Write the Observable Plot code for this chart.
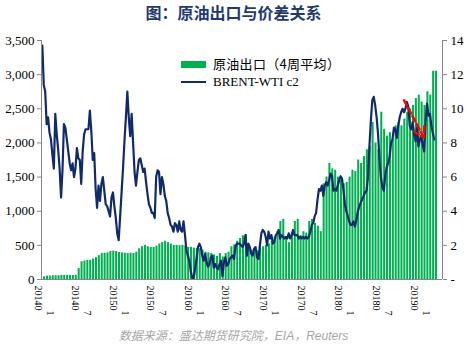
<!DOCTYPE html>
<html><head><meta charset="utf-8">
<script src="https://cdn.jsdelivr.net/npm/d3@7"></script>
<script src="https://cdn.jsdelivr.net/npm/@observablehq/plot@0.6"></script>
<style>
body{margin:0;background:#fff;width:467px;height:345px;overflow:hidden;position:relative;}
#title{height:26px;line-height:20px;text-align:center;font:bold 16px "Noto Sans CJK SC";color:#1F3A70;}
#caption{position:absolute;top:326px;left:0;width:467px;text-align:center;font:italic 12px "Liberation Sans","Noto Sans CJK SC";color:#A6A6A6;line-height:20px;}
.lg{position:absolute;left:181px;height:14px;display:flex;align-items:center;white-space:nowrap;}
.sw{display:inline-block;width:25px;margin-right:7px;}
.t1{font:13px/14px "Noto Sans CJK SC";color:#000;letter-spacing:0.3px;}
.t2{font:13px/14px "Liberation Serif";color:#000;}
</style></head>
<body>
<div id="title">图：原油出口与价差关系</div>
<div id="chart"></div>
<div class="lg" style="top:57px"><span class="sw" style="height:7px;background:#00B050"></span><span class="t1">原油出口（4周平均）</span></div>
<div class="lg" style="top:75px"><span class="sw" style="height:2.5px;background:#102A6B"></span><span class="t2">BRENT-WTI c2</span></div>
<div id="caption">数据来源：盛达期货研究院，EIA，Reuters</div>
<script>
// Crude exports (4-week average), biweekly from 2014-01-03
const barStart = "2014-01-03";
const exportsVals = [40, 50, 50, 55, 55, 55, 60, 60, 60, 60,
 60, 60, 160, 260, 270, 280, 280, 300, 320, 350,
 380, 385, 390, 410, 415, 410, 395, 390, 385, 380,
 385, 380, 400, 450, 480, 500, 480, 470, 470, 490,
 520, 540, 560, 540, 520, 500, 500, 495, 500, 490,
 470, 470, 460, 455, 450, 430, 400, 390, 380, 360,
 340, 380, 330, 380, 400, 480, 510, 560, 600, 640,
 660, 480, 430, 400, 420, 460, 480, 500, 520, 560,
 620, 700, 850, 880, 620, 540, 680, 850, 880, 640,
 700, 680, 850, 880, 820, 780, 700, 1400, 1500, 1700,
 1620, 1600, 1500, 1450, 1400, 1420, 1500, 1600, 1580, 1750,
 1700, 1800, 1900, 1950, 2300, 2000, 1900, 2450, 2200, 2100,
 2150, 2050, 2250, 2300, 2250, 2350, 2450, 2500, 2550, 2650,
 2700, 2600, 2550, 2750, 2700, 3050, 3050];
// BRENT-WTI c2 spread, weekly from 2013-12-23
const spreadStart = "2013-12-23";
const spreadVals = [13.7, 11.4, 11.0, 9.1, 9.5, 8.6, 8.2, 7.3, 6.5, 9.7,
 8.5, 7.6, 6.5, 4.8, 6.4, 9.1, 8.9, 8.2, 7.5, 6.8,
 6.4, 6.8, 6.0, 6.5, 7.7, 7.1, 7.0, 5.6, 7.5, 8.5,
 8.8, 8.8, 8.8, 9.9, 8.7, 7.0, 7.4, 5.3, 4.2, 5.5,
 4.6, 5.6, 6.0, 5.2, 4.4, 4.3, 4.0, 3.7, 4.8, 5.1,
 4.3, 3.6, 2.7, 2.3, 3.7, 5.1, 6.5, 8.1, 9.5, 11.0,
 9.5, 8.4, 9.7, 8.0, 6.3, 5.5, 6.3, 7.0, 7.1, 6.7,
 6.3, 6.5, 5.7, 5.0, 4.4, 4.2, 3.9, 3.9, 3.6, 6.0,
 6.4, 6.3, 5.0, 6.0, 5.6, 4.9, 4.6, 3.9, 3.6, 3.2,
 3.1, 2.8, 3.3, 3.2, 2.8, 3.4, 2.9, 2.8, 3.4, 2.6,
 1.7, 1.4, 1.1, 0.5, 0.1, 0.1, 0.6, 1.2, 1.9, 2.1,
 1.9, 1.4, 1.1, 1.5, 1.0, 0.75, 0.9, 1.3, 1.4, 0.7,
 0.9, 0.7, 0.6, 0.9, 1.1, 0.2, 1.0, 1.3, 0.8, 0.9,
 1.2, 1.3, 1.4, 1.2, 1.9, 2.1, 2.1, 2.1, 2.0, 1.9,
 2.1, 2.6, 1.4, 2.1, 1.9, 1.5, 1.4, 1.8, 1.9, 1.3,
 1.2, 2.0, 2.7, 2.9, 2.8, 2.5, 2.0, 2.8, 2.4, 2.6,
 2.1, 2.2, 2.6, 2.7, 2.9, 2.4, 2.6, 2.5, 2.4, 2.5,
 2.4, 2.7, 2.4, 2.6, 2.9, 2.6, 2.6, 2.6, 2.4, 2.5,
 2.4, 2.5, 2.4, 2.5, 2.4, 2.5, 2.8, 3.2, 3.3, 3.7,
 3.9, 4.7, 5.3, 5.2, 5.5, 4.9, 5.5, 5.7, 5.5, 5.8,
 6.2, 6.1, 5.2, 5.3, 5.2, 5.5, 5.8, 6.05, 5.9, 5.2,
 4.4, 4.0, 3.7, 3.4, 3.2, 3.2, 3.4, 3.1, 3.5, 4.0,
 4.3, 4.5, 4.7, 4.9, 5.1, 5.2, 6.0, 7.8, 9.3, 10.5,
 10.7, 10.2, 9.5, 8.5, 7.0, 6.0, 5.4, 5.2, 6.1, 6.6,
 6.8, 7.2, 8.0, 8.2, 8.9, 8.8, 8.3, 9.0, 9.5, 9.8,
 10.0, 9.8, 10.0, 10.4, 10.1, 9.0, 8.8, 9.2, 8.5, 8.1,
 8.9, 7.8, 8.2, 8.4, 7.9, 7.5, 9.3, 10.3, 9.6, 9.7,
 9.0, 8.6, 8.2];
const leftTicks = [0, 500, 1000, 1500, 2000, 2500, 3000, 3500];
const rightTicks = [0, 2, 4, 6, 8, 10, 12, 14];
const xDomain = ["2013-12-19", "2019-04-20"];
const xLabelDates = ["2014-01-01","2014-07-01","2015-01-01","2015-07-01","2016-01-01","2016-07-01","2017-01-01","2017-07-01","2018-01-01","2018-07-01","2019-01-01"];
const xLabelTop = ["20140","20140","20150","20150","20160","20160","20170","20170","20180","20180","20190"];
const xLabelBottom = ["1","7","1","7","1","7","1","7","1","7","1"];
// annotation arrow (date, spread) -> (date, spread)
const arrowFrom = ["2018-10-15", 10.5];
const arrowTo = ["2019-01-20", 8.3];

const RATIO = 3500 / 14;
const P = d3.utcParse("%Y-%m-%d");
const bars = exportsVals.map((v, i) => ({date: d3.utcDay.offset(P(barStart), 14 * i), v}));
const line = spreadVals.map((v, i) => ({date: d3.utcDay.offset(P(spreadStart), 7 * i), v: v * RATIO}));
const labels = xLabelDates.map((d, i) => ({date: P(d), top: xLabelTop[i], bottom: xLabelBottom[i]}));
const gray = "#868686";

const chart = Plot.plot({
  width: 467, height: 300,
  marginLeft: 41, marginRight: 25, marginTop: 14, marginBottom: 47,
  style: {fontFamily: "Liberation Serif", fontSize: "13px", color: "#000", background: "#fff"},
  x: {type: "utc", domain: xDomain.map(P), axis: null},
  y: {domain: [0, 3500], label: null},
  marks: [
    Plot.rectY(bars, {x1: d => d3.utcDay.offset(d.date, -5), x2: d => d3.utcDay.offset(d.date, 5), y: "v", fill: "#00B050"}),
    Plot.line(line, {x: "date", y: "v", stroke: "#102A6B", strokeWidth: 2.2}),
    Plot.arrow([0], {x1: () => P(arrowFrom[0]), y1: () => arrowFrom[1] * RATIO, x2: () => P(arrowTo[0]), y2: () => arrowTo[1] * RATIO,
      stroke: "#FF0000", strokeWidth: 2.5, strokeDasharray: "6,3", headLength: 7}),
    Plot.ruleY([0], {stroke: gray}),
    Plot.ruleX([P(xDomain[0]), P(xDomain[1])], {stroke: gray}),
    Plot.axisY({ticks: leftTicks, tickFormat: d3.format(","), tickSize: 4, tickPadding: 3, stroke: gray, fill: "#000", label: null}),
    Plot.axisY({anchor: "right", ticks: rightTicks.map(t => t * RATIO), tickFormat: v => v === 0 ? "-" : String(v / RATIO), tickSize: 4, tickPadding: 4, stroke: gray, fill: "#000", label: null}),
    Plot.text(labels, {x: "date", text: "top", frameAnchor: "bottom", dy: 6, dx: -9.5, rotate: 90, textAnchor: "start", fontSize: 10}),
    Plot.text(labels, {x: "date", text: "bottom", frameAnchor: "bottom", dy: 31, dx: 2.5, rotate: 90, textAnchor: "start", fontSize: 10})
  ]
});
document.getElementById("chart").appendChild(chart);
</script>
</body></html>
